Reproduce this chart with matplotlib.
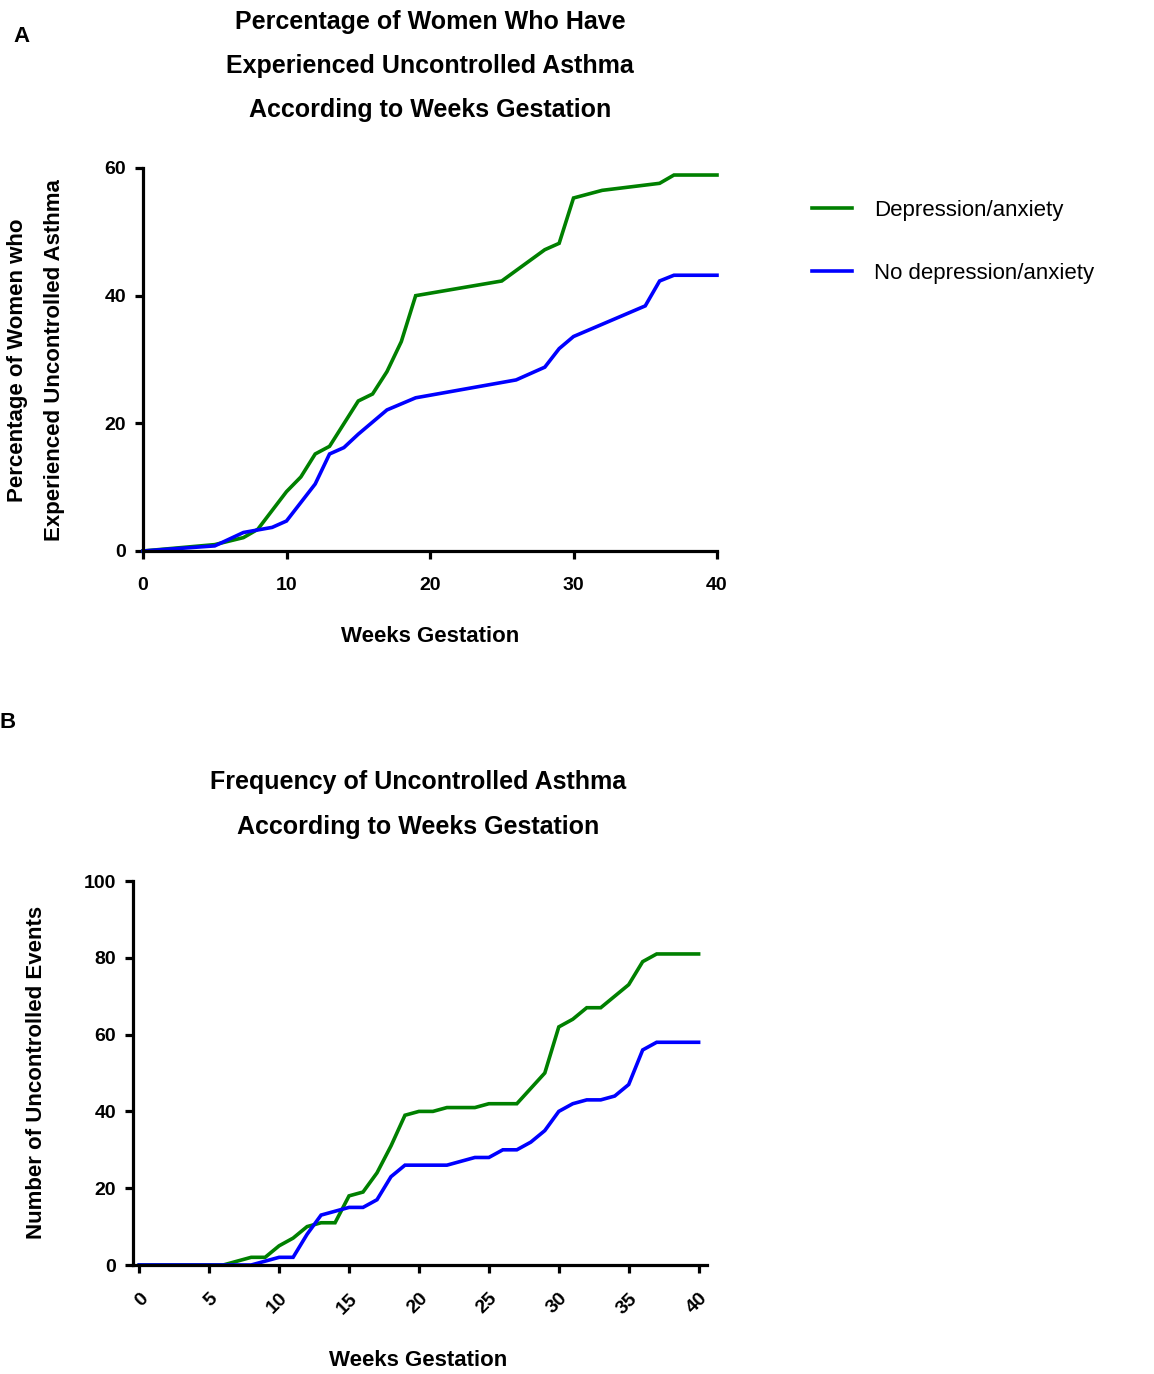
import matplotlib
matplotlib.use("Agg")
from matplotlib import pyplot as plt

plt.rcParams['font.family'] = ['Liberation Sans', 'DejaVu Sans']

W, H = 1154, 1374

# Panel A: percentage of women with uncontrolled asthma
a_dep_wk  = [0, 5, 7, 8, 10, 11, 12, 13, 15, 16, 17, 18, 19, 25, 28, 29, 30, 32, 36, 37, 40]
a_dep_pct = [0, 1.0, 2.1, 3.4, 9.3, 11.6, 15.2, 16.4, 23.5, 24.6, 28.1, 32.8, 40.0, 42.3,
             47.2, 48.2, 55.3, 56.5, 57.6, 58.9, 58.9]
a_no_wk   = [0, 5, 7, 8, 9, 10, 12, 13, 14, 15, 17, 19, 26, 28, 29, 30, 35, 36, 37, 40]
a_no_pct  = [0, 0.8, 2.9, 3.3, 3.7, 4.7, 10.5, 15.2, 16.2, 18.3, 22.1, 24.0, 26.8, 28.8,
             31.7, 33.6, 38.4, 42.3, 43.2, 43.2]

# Panel B: number of uncontrolled events
b_dep_wk  = [0, 6, 8, 9, 10, 11, 12, 13, 14, 15, 16, 17, 18, 19, 20, 21, 22, 24, 25, 27,
             28, 29, 30, 31, 32, 33, 34, 35, 36, 37, 40]
b_dep_n   = [0, 0, 2, 2, 5, 7, 10, 11, 11, 18, 19, 24, 31, 39, 40, 40, 41, 41, 42, 42,
             46, 50, 62, 64, 67, 67, 70, 73, 79, 81, 81]
b_no_wk   = [0, 8, 9, 10, 11, 12, 13, 14, 15, 16, 17, 18, 19, 22, 24, 25, 26, 27, 28, 29,
             30, 31, 32, 33, 34, 35, 36, 37, 40]
b_no_n    = [0, 0, 1, 2, 2, 8, 13, 14, 15, 15, 17, 23, 26, 26, 28, 28, 30, 30, 32, 35,
             40, 42, 43, 43, 44, 47, 56, 58, 58]

labels = ["Depression/anxiety", "No depression/anxiety"]
green = "#008000"
blue = "#0000ff"


def px(x, y):
    return x / W, 1 - y / H


def style_axes(ax):
    for s in ["top", "right"]:
        ax.spines[s].set_visible(False)
    for s in ["left", "bottom"]:
        ax.spines[s].set_linewidth(2.3)
    ax.tick_params(direction="out", length=6, width=2.3, labelsize=14, pad=6)
    for t in ax.get_xticklabels() + ax.get_yticklabels():
        t.set_fontweight("bold")


fig = plt.figure(figsize=(W / 100, H / 100), dpi=100)

# ---- panel A
axA = fig.add_axes([143 / W, 1 - 551 / H, 574 / W, 383 / H])
lA1, = axA.plot(a_dep_wk, a_dep_pct, color=green, lw=2.6, solid_joinstyle="miter")
lA2, = axA.plot(a_no_wk, a_no_pct, color=blue, lw=2.6, solid_joinstyle="miter")
axA.set_xlim(0, 40)
axA.set_ylim(0, 60)
axA.set_xticks([0, 10, 20, 30, 40])
axA.set_yticks([0, 20, 40, 60])
style_axes(axA)
axA.tick_params(axis="x", pad=13)
for l in [lA1, lA2]:
    l.set_clip_on(False)

fig.text(*px(22, 37), "A", fontsize=16, fontweight="bold", ha="center", va="center")
for i, line in enumerate(["Percentage of Women Who Have",
                          "Experienced Uncontrolled Asthma",
                          "According to Weeks Gestation"]):
    fig.text(*px(430, 22 + 44 * i), line, fontsize=18, fontweight="bold",
             ha="center", va="center")
fig.text(*px(18, 360), "Percentage of Women who", fontsize=16, fontweight="bold",
         rotation=90, ha="center", va="center")
fig.text(*px(55, 360), "Experienced Uncontrolled Asthma", fontsize=16, fontweight="bold",
         rotation=90, ha="center", va="center")
fig.text(*px(430, 637), "Weeks Gestation", fontsize=16, fontweight="bold",
         ha="center", va="center")

fig.legend([lA1, lA2], labels, loc="upper left", bbox_to_anchor=px(792, 180),
           frameon=False, fontsize=16, handlelength=1.8, handletextpad=1.0,
           labelspacing=1.9)

# ---- panel B
axB = fig.add_axes([133 / W, 1 - 1265 / H, 574 / W, 384 / H])
lB1, = axB.plot(b_dep_wk, b_dep_n, color=green, lw=2.6, solid_joinstyle="miter")
lB2, = axB.plot(b_no_wk, b_no_n, color=blue, lw=2.6, solid_joinstyle="miter")
axB.set_xlim(-0.45, 40.6)
axB.set_ylim(0, 100)
axB.set_xticks(list(range(0, 41, 5)))
axB.set_yticks([0, 20, 40, 60, 80, 100])
style_axes(axB)
for t in axB.get_xticklabels():
    t.set_rotation(45)
    t.set_ha("right")
    t.set_va("top")
    t.set_rotation_mode("anchor")
axB.tick_params(axis="x", pad=12)

fig.text(*px(8, 722), "B", fontsize=16, fontweight="bold", ha="center", va="center")
for i, line in enumerate(["Frequency of Uncontrolled Asthma",
                          "According to Weeks Gestation"]):
    fig.text(*px(418, 782 + 45 * i), line, fontsize=18, fontweight="bold",
             ha="center", va="center")
fig.text(*px(37, 1072), "Number of Uncontrolled Events", fontsize=16, fontweight="bold",
         rotation=90, ha="center", va="center")
fig.text(*px(418, 1360), "Weeks Gestation", fontsize=16, fontweight="bold",
         ha="center", va="center")

fig.savefig("out.png", dpi=100)
